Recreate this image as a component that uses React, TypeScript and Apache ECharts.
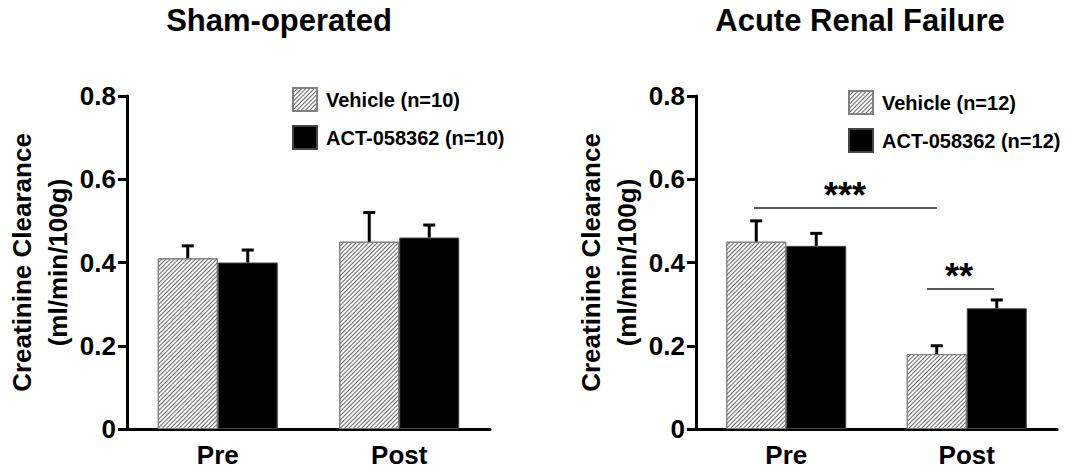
import React, { useEffect, useRef } from "react";
import * as echarts from "echarts";

const categories = ["Pre", "Post"];
const yTicks = [0, 0.2, 0.4, 0.6, 0.8];

const shamNames = ["Vehicle (n=10)", "ACT-058362 (n=10)"];
const shamVehicle = [0.41, 0.45];
const shamVehicleErr = [0.03, 0.07];
const shamAct = [0.40, 0.46];
const shamActErr = [0.03, 0.03];

const arfNames = ["Vehicle (n=12)", "ACT-058362 (n=12)"];
const arfVehicle = [0.45, 0.18];
const arfVehicleErr = [0.05, 0.02];
const arfAct = [0.44, 0.29];
const arfActErr = [0.03, 0.02];

const titles = ["Sham-operated", "Acute Renal Failure"];
const yName = "Creatinine Clearance\n(ml/min/100g)";
const sigLabels = ["***", "**"];

const FONT = '"Liberation Sans", Arial, Helvetica, sans-serif';
const BAR_W = 60;

export default function App() {
  const ref = useRef<HTMLDivElement>(null);
  useEffect(() => {
    document.body.style.margin = "0";
    const chart = echarts.init(ref.current!, null, { renderer: "svg" });

    const hatch = {
      color: "#fff",
      borderColor: "#808080",
      borderWidth: 1,
      decal: {
        symbol: "rect",
        symbolSize: 1,
        dashArrayX: [1, 0],
        dashArrayY: [1, 2],
        rotation: -Math.PI / 4,
        color: "#666",
        backgroundColor: "#fff",
      },
    };
    const solid = { color: "#000", borderColor: "#444", borderWidth: 1 };

    const grids = [
      { left: 127, top: 96, width: 363, height: 333 },
      { left: 696, top: 96, width: 361, height: 333 },
    ];

    const xAxes = grids.map((_, i) => ({
      type: "category",
      gridIndex: i,
      data: categories,
      axisLine: { lineStyle: { color: "#000", width: 3 } },
      axisTick: { alignWithLabel: true, length: 9, lineStyle: { color: "#000", width: 3 } },
      axisLabel: { fontFamily: FONT, fontSize: 26, fontWeight: "bold", color: "#000", margin: 13 },
    }));
    const yAxes = grids.map((_, i) => ({
      type: "value",
      gridIndex: i,
      min: yTicks[0],
      max: yTicks[yTicks.length - 1],
      interval: 0.2,
      name: yName,
      nameLocation: "middle",
      nameGap: 48,
      nameTextStyle: { fontFamily: FONT, fontSize: 26, fontWeight: "bold", color: "#000", lineHeight: 36 },
      axisLine: { show: true, lineStyle: { color: "#000", width: 3 } },
      axisTick: { show: true, length: 9, lineStyle: { color: "#000", width: 3 } },
      splitLine: { show: false },
      axisLabel: { fontFamily: FONT, fontSize: 26, fontWeight: "bold", color: "#000", margin: 11 },
    }));

    const errSeries = (vals: number[], errs: number[], idx: number, offset: number) => ({
      type: "custom",
      xAxisIndex: idx,
      yAxisIndex: idx,
      z: 5,
      silent: true,
      encode: { x: 0, y: 2 },
      data: vals.map((v, i) => [i, v, v + errs[i]]),
      renderItem: (params: any, api: any) => {
        const top = api.coord([api.value(0), api.value(2)]);
        const base = api.coord([api.value(0), api.value(1)]);
        const x = top[0] + offset;
        const st = { stroke: "#000", lineWidth: 3 };
        return {
          type: "group",
          children: [
            { type: "line", shape: { x1: x, y1: base[1], x2: x, y2: top[1] }, style: st },
            { type: "line", shape: { x1: x - 6, y1: top[1], x2: x + 6, y2: top[1] }, style: st },
          ],
        };
      },
    });

    const barSeries = (name: string, vals: number[], idx: number, style: any) => ({
      type: "bar",
      name,
      xAxisIndex: idx,
      yAxisIndex: idx,
      barWidth: BAR_W,
      barGap: "0%",
      itemStyle: style,
      data: vals,
    });

    const legendBase = {
      orient: "vertical",
      icon: "rect",
      itemWidth: 24,
      itemHeight: 23,
      itemGap: 13,
      selectedMode: false,
      textStyle: { fontFamily: FONT, fontSize: 20, fontWeight: "bold", color: "#000", padding: [0, 0, 0, 4] },
    };

    const tStyle = (size: number) => ({ font: `bold ${size}px ${FONT}`, fill: "#000", textAlign: "center", textVerticalAlign: "middle" });

    chart.setOption({
      animation: false,
      backgroundColor: "#fff",
      grid: grids,
      xAxis: xAxes,
      yAxis: yAxes,
      legend: [
        { ...legendBase, data: shamNames, left: 287, top: 82 },
        { ...legendBase, data: arfNames, left: 843, top: 85 },
      ],
      series: [
        barSeries(shamNames[0], shamVehicle, 0, hatch),
        barSeries(shamNames[1], shamAct, 0, solid),
        barSeries(arfNames[0], arfVehicle, 1, hatch),
        barSeries(arfNames[1], arfAct, 1, solid),
        errSeries(shamVehicle, shamVehicleErr, 0, -BAR_W / 2),
        errSeries(shamAct, shamActErr, 0, BAR_W / 2),
        errSeries(arfVehicle, arfVehicleErr, 1, -BAR_W / 2),
        errSeries(arfAct, arfActErr, 1, BAR_W / 2),
      ],
      graphic: [
        { type: "text", x: 279, y: 20, style: { text: titles[0], ...tStyle(31) } },
        { type: "text", x: 860, y: 20, style: { text: titles[1], ...tStyle(31) } },
        { type: "line", shape: { x1: 754, y1: 208, x2: 937, y2: 208 }, style: { stroke: "#222", lineWidth: 1.5 } },
        { type: "text", x: 845, y: 195, style: { text: sigLabels[0], ...tStyle(36) } },
        { type: "line", shape: { x1: 927, y1: 289, x2: 994, y2: 289 }, style: { stroke: "#222", lineWidth: 1.5 } },
        { type: "text", x: 959, y: 276, style: { text: sigLabels[1], ...tStyle(36) } },
      ],
    });
    return () => chart.dispose();
  }, []);
  return <div ref={ref} style={{ width: 1079, height: 475 }} />;
}
